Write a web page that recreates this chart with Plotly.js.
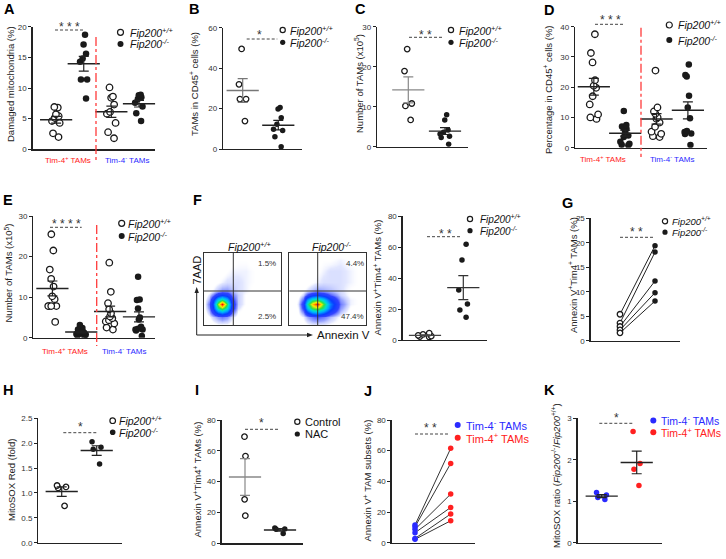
<!DOCTYPE html>
<html><head><meta charset="utf-8">
<script src="https://cdn.plot.ly/plotly-3.0.1.min.js"></script>
<style>html,body{margin:0;padding:0;background:#fff}#chart{width:726px;height:559px}</style>
</head><body><div id="chart"></div>
<script>
// ================= DATA =================
const groupCats = ['Tim-4+ WT', 'Tim-4+ KO', 'Tim-4- WT', 'Tim-4- KO'];
const genoCats = ['Fip200+/+', 'Fip200-/-'];
const treatCats = ['Control', 'NAC'];
const subsetCats = ['Tim-4- TAMs', 'Tim-4+ TAMs'];

// A: damaged mitochondria (%)
const aPosWT = [6.9, 6.8, 5.7, 5.4, 5.1, 4.6, 4.3, 2.6, 2.0];
const aPosKO = [18.7, 17.1, 15.6, 14.8, 14.3, 11.4, 11.4, 8.3];
const aNegWT = [10.1, 8.6, 8.4, 7.3, 6.1, 5.8, 4.3, 2.8, 1.8];
const aNegKO = [8.9, 8.8, 8.5, 8.2, 7.6, 7.0, 5.9, 4.6];
// B: TAMs in CD45+ cells (%)
const bWT = [49.5, 32.0, 24.7, 24.7, 13.8];
const bKO = [20.5, 19.8, 15.5, 12.3, 9.8, 9.2, 6.0, 1.1];
// C: number of TAMs (x10^5)
const cWT = [24.4, 18.9, 10.8, 10.2, 6.7];
const cKO = [8.0, 6.7, 4.2, 3.6, 3.2, 2.6, 2.3, 0.6];
// D: percentage in CD45+ cells (%)
const dPosWT = [37.5, 31.3, 28.2, 22.3, 20.5, 19.8, 17.0, 14.3, 11.0, 10.0, 9.5];
const dPosKO = [12.1, 7.5, 7.0, 6.5, 6.3, 5.5, 4.0, 3.5, 2.0, 1.3, 1.0, 0.8];
const dNegWT = [25.5, 13.3, 12.0, 11.2, 10.0, 9.6, 8.3, 6.9, 5.3, 4.6, 3.8, 3.5];
const dNegKO = [27.5, 24.0, 23.5, 17.2, 13.3, 9.7, 5.5, 5.2, 4.7, 4.5, 0.9];
// E: number of TAMs (x10^5)
const ePosWT = [25.5, 21.5, 16.8, 14.5, 12.6, 10.2, 9.5, 7.8, 7.8, 7.8, 7.8, 3.9];
const ePosKO = [3.1, 2.4, 2.0, 1.8, 1.6, 1.4, 1.2, 1.0, 0.9, 0.7, 0.5, 0.4];
const eNegWT = [18.5, 11.3, 8.5, 7.0, 6.0, 5.2, 4.8, 4.3, 4.0, 3.5, 2.5, 2.0];
const eNegKO = [15.0, 9.4, 9.3, 7.2, 5.0, 4.5, 2.7, 2.2, 2.0, 2.0, 1.8, 0.4];
// F: flow cytometry density (Annexin V vs 7AAD, relative scale), and Annexin V+Tim4+ TAMs (%)
const annexinBins = [0, 0.06, 0.12, 0.18, 0.24, 0.30, 0.36, 0.44, 0.54, 0.66, 0.80, 1];
const aadBins = [0, 0.11, 0.17, 0.23, 0.29, 0.35, 0.41, 0.47, 0.60, 0.75, 0.90, 1];
const flowWT = [
  [0, 0, 0.01, 0.02, 0.02, 0.02, 0.01, 0, 0, 0, 0, 0],
  [0, 0.02, 0.05, 0.08, 0.10, 0.08, 0.04, 0.01, 0, 0, 0, 0],
  [0, 0.05, 0.14, 0.28, 0.34, 0.26, 0.10, 0.02, 0.01, 0, 0, 0],
  [0.01, 0.08, 0.24, 0.58, 0.70, 0.52, 0.18, 0.04, 0.01, 0, 0, 0],
  [0.01, 0.10, 0.28, 0.72, 1.00, 0.62, 0.20, 0.05, 0.02, 0.01, 0, 0],
  [0.01, 0.07, 0.22, 0.50, 0.62, 0.45, 0.16, 0.05, 0.02, 0.01, 0, 0],
  [0, 0.04, 0.10, 0.20, 0.25, 0.20, 0.10, 0.05, 0.02, 0.01, 0, 0],
  [0, 0.01, 0.03, 0.06, 0.08, 0.08, 0.06, 0.04, 0.03, 0.01, 0, 0],
  [0, 0, 0.01, 0.02, 0.03, 0.04, 0.04, 0.04, 0.03, 0.02, 0.01, 0],
  [0, 0, 0, 0.01, 0.01, 0.02, 0.03, 0.03, 0.03, 0.02, 0.01, 0],
  [0, 0, 0, 0, 0, 0.01, 0.01, 0.02, 0.02, 0.01, 0, 0],
  [0, 0, 0, 0, 0, 0, 0, 0, 0, 0, 0, 0]
];
const flowKO = [
  [0, 0, 0, 0.01, 0.02, 0.03, 0.03, 0.03, 0.02, 0.01, 0, 0],
  [0, 0, 0.01, 0.03, 0.07, 0.10, 0.12, 0.10, 0.06, 0.02, 0.01, 0],
  [0, 0, 0.02, 0.08, 0.22, 0.34, 0.38, 0.30, 0.16, 0.05, 0.01, 0],
  [0, 0, 0.03, 0.15, 0.45, 0.66, 0.72, 0.58, 0.30, 0.08, 0.02, 0],
  [0, 0, 0.04, 0.18, 0.55, 0.82, 1.00, 0.66, 0.34, 0.10, 0.03, 0.01],
  [0, 0, 0.03, 0.12, 0.40, 0.58, 0.62, 0.50, 0.26, 0.08, 0.03, 0.01],
  [0, 0, 0.01, 0.05, 0.14, 0.22, 0.25, 0.20, 0.12, 0.05, 0.02, 0.01],
  [0, 0, 0, 0.02, 0.04, 0.06, 0.08, 0.07, 0.06, 0.04, 0.02, 0.01],
  [0, 0, 0, 0, 0.01, 0.02, 0.03, 0.04, 0.04, 0.04, 0.03, 0.01],
  [0, 0, 0, 0, 0, 0.01, 0.02, 0.03, 0.04, 0.04, 0.03, 0.01],
  [0, 0, 0, 0, 0, 0, 0.01, 0.02, 0.02, 0.03, 0.02, 0.01],
  [0, 0, 0, 0, 0, 0, 0, 0, 0.01, 0.01, 0.01, 0]
];
const quadWT = ['1.5%', '2.5%'];
const quadKO = ['4.4%', '47.4%'];
const fWT = [4.5, 3.6, 3.0, 2.5, 2.2, 2.0];
const fKO = [61.7, 51.6, 32.3, 23.2, 19.4, 14.6];
// G: paired Annexin V+Tim4+ TAMs (%)
const gWT = [5.4, 3.6, 2.9, 2.2, 1.6];
const gKO = [19.4, 18.1, 12.2, 9.8, 8.1];
// H: MitoSOX Red (fold)
const hWT = [1.15, 1.12, 1.10, 0.74];
const hKO = [2.03, 1.92, 1.88, 1.58];
// I: Control vs NAC
const iCtrl = [69.2, 56.6, 28.5, 17.9];
const iNAC = [10.0, 9.3, 9.1, 6.3];
// J: Annexin V+ TAM subsets (%)
const jNeg = [11.5, 10.4, 8.7, 6.5, 2.8, 2.2];
const jPos = [61.5, 51.7, 31.7, 23.0, 18.7, 14.3];
// K: MitoSOX ratio
const kNeg = [1.21, 1.15, 1.09, 1.04];
const kPos = [2.68, 1.91, 1.77, 1.38];

// ================= STYLE / HELPERS =================
const FONT = 'Liberation Sans, Arial, Helvetica, sans-serif';
const W = 726, H = 559;
const px = v => v / W, py = v => 1 - v / H;
const RED = '#ff2020', BLUE = '#2a2aff', DARK = '#1a1a1a';
const traces = [], shapes = [], annotations = [];
const layout = {
  width: W, height: H, margin: {l: 0, r: 0, t: 0, b: 0},
  paper_bgcolor: '#ffffff', plot_bgcolor: 'rgba(0,0,0,0)',
  showlegend: false, boxgap: 0, boxmode: 'overlay',
  font: {family: FONT, color: '#222'},
  shapes: shapes, annotations: annotations
};
let axisCount = 0;
function addAxes(g) {
  axisCount++;
  const s = axisCount === 1 ? '' : String(axisCount);
  const xid = 'x' + s, yid = 'y' + s;
  const xa = {domain: [px(g.x0), px(g.x1)], anchor: yid, range: g.xr, showline: true, linecolor: '#222',
    linewidth: 1.3, ticks: '', showticklabels: false, showgrid: false, zeroline: false, fixedrange: true};
  if (g.cats) Object.assign(xa, {type: 'category', categoryorder: 'array', categoryarray: g.cats});
  else xa.type = 'linear';
  const ya = {domain: [py(g.yBot), py(g.yTop)], anchor: xid, range: g.yr, type: 'linear', showline: true,
    linecolor: '#222', linewidth: 1.3, showgrid: false, zeroline: false, fixedrange: true};
  if (g.flow) {
    Object.assign(xa, {mirror: true, linewidth: 1.1, linecolor: '#333'});
    Object.assign(ya, {mirror: true, ticks: '', showticklabels: false, linewidth: 1.1, linecolor: '#333'});
  } else {
    Object.assign(ya, {ticks: 'outside', ticklen: 3, tickwidth: 1, tickcolor: '#222', tickmode: 'linear',
      tick0: 0, dtick: g.dtick, tickformat: g.fmt || '', tickfont: {family: FONT, size: 8, color: '#333'}});
  }
  layout['xaxis' + s] = xa; layout['yaxis' + s] = ya;
  return {x: xid, y: yid};
}
function markerOf(style, size) {
  if (style === 'open') return {symbol: 'circle', size: size, color: '#ffffff', line: {width: 1.3, color: DARK}};
  if (style === 'filled') return {symbol: 'circle', size: size, color: DARK, line: {width: 0, color: DARK}};
  return {symbol: 'circle', size: size, color: style, line: {width: 0, color: style}};
}
function dots(ax, cat, vals, style, jitter, size) {
  traces.push({type: 'box', x: vals.map(() => cat), y: vals, xaxis: ax.x, yaxis: ax.y, boxpoints: 'all',
    jitter: jitter, pointpos: 0, fillcolor: 'rgba(0,0,0,0)', line: {width: 0, color: 'rgba(0,0,0,0)'},
    whiskerwidth: 0, marker: markerOf(style, size), hoverinfo: 'skip', showlegend: false});
}
function meanSem(ax, cat, vals, color) {
  const m = vals.reduce((a, b) => a + b, 0) / vals.length;
  const sd = Math.sqrt(vals.reduce((a, b) => a + (b - m) * (b - m), 0) / (vals.length - 1));
  const se = sd / Math.sqrt(vals.length);
  traces.push({type: 'scatter', mode: 'markers', x: [cat], y: [m], xaxis: ax.x, yaxis: ax.y,
    marker: {symbol: 'line-ew-open', size: 23, color: color, line: {width: 1.4, color: color}},
    error_y: {type: 'data', array: [se], visible: true, color: color, thickness: 1.2, width: 5},
    cliponaxis: false, hoverinfo: 'skip', showlegend: false});
}
function pairs(ax, cats, a, b, lineColor, styleA, styleB, size) {
  const xs = [], ys = [];
  a.forEach((v, i) => { xs.push(cats[0], cats[1], null); ys.push(v, b[i], null); });
  traces.push({type: 'scatter', mode: 'lines', x: xs, y: ys, xaxis: ax.x, yaxis: ax.y, connectgaps: false,
    line: {color: lineColor, width: 1}, cliponaxis: false, hoverinfo: 'skip', showlegend: false});
  traces.push({type: 'scatter', mode: 'markers', x: a.map(() => cats[0]), y: a, xaxis: ax.x, yaxis: ax.y,
    marker: markerOf(styleA, size), cliponaxis: false, hoverinfo: 'skip', showlegend: false});
  traces.push({type: 'scatter', mode: 'markers', x: b.map(() => cats[1]), y: b, xaxis: ax.x, yaxis: ax.y,
    marker: markerOf(styleB, size), cliponaxis: false, hoverinfo: 'skip', showlegend: false});
}
function ann(text, x, y, o) {
  annotations.push(Object.assign({text: text, xref: 'paper', yref: 'paper', x: px(x), y: py(y),
    showarrow: false, xanchor: 'center', yanchor: 'middle', font: {family: FONT, size: 9.5, color: '#222'}}, o || {}));
}
function letter(t, x, y) { ann('<b>' + t + '</b>', x, y, {font: {family: FONT, size: 14.5, color: '#000'}}); }
function ytitle(t, x, y) { ann(t, x, y, {textangle: -90, font: {family: FONT, size: 9.5, color: '#222'}}); }
function pline(x0, y0, x1, y1, color, width, dash) {
  shapes.push({type: 'line', xref: 'paper', yref: 'paper', x0: px(x0), y0: py(y0), x1: px(x1), y1: py(y1),
    line: {color: color, width: width, dash: dash || 'solid'}});
}
function sig(text, cx, cy, lx0, lx1, ly) {
  pline(lx0, ly, lx1, ly, '#444', 1, '3px,2px');
  ann(text, cx, cy + 3, {font: {family: FONT, size: 12, color: '#333'}});
}
function legendItem(cx, cy, style, r, text, tx, size, color, italic) {
  const fill = style === 'open' ? '#ffffff' : (style === 'filled' ? DARK : style);
  const lc = style === 'open' ? DARK : fill;
  shapes.push({type: 'circle', xref: 'paper', yref: 'paper', x0: px(cx - r), x1: px(cx + r), y0: py(cy + r), y1: py(cy - r),
    fillcolor: fill, line: {color: lc, width: style === 'open' ? 1.2 : 0}});
  ann(italic ? '<i>' + text + '</i>' : text, tx, cy, {xanchor: 'left', font: {family: FONT, size: size, color: color || '#111'}});
}
function fipLegend(cx, cyA, cyB, r, tx, size) {
  legendItem(cx, cyA, 'open', r, 'Fip200<sup>+/+</sup>', tx, size || 10.5, '#111', true);
  legendItem(cx, cyB, 'filled', r, 'Fip200<sup>-/-</sup>', tx, size || 10.5, '#111', true);
}
const TP = 'Tim-4<sup>+</sup> TAMs', TN = 'Tim-4<sup>-</sup> TAMs';
const AVT = 'Annexin V<sup>+</sup>Tim4<sup>+</sup> TAMs (%)';

// ================= PANEL A =================
let ax = addAxes({x0: 32.5, x1: 155, yTop: 26.7, yBot: 149.3, yr: [0, 20], dtick: 5, cats: groupCats, xr: [-0.855, 3.58]});
dots(ax, groupCats[0], aPosWT, 'open', 0.6, 6.5);
dots(ax, groupCats[1], aPosKO, 'filled', 0.5, 6.5);
dots(ax, groupCats[2], aNegWT, 'open', 0.6, 6.5);
dots(ax, groupCats[3], aNegKO, 'filled', 0.6, 6.5);
groupCats.forEach((c, i) => meanSem(ax, c, [aPosWT, aPosKO, aNegWT, aNegKO][i], '#222'));
letter('A', 9, 9);
ytitle('Damaged mitochondria (%)', 11, 84);
pline(96, 37, 96, 161, '#ff3b3b', 1.3, 'dashdot');
sig('* * *', 69, 24, 55, 83.3, 30);
fipLegend(120.5, 32.3, 44, 3, 128.3);
ann(TP, 68, 160, {font: {family: FONT, size: 8, color: RED}});
ann(TN, 127, 160, {font: {family: FONT, size: 8, color: BLUE}});

// ================= PANEL B =================
ax = addAxes({x0: 223, x1: 302, yTop: 27.7, yBot: 149, yr: [0, 60], dtick: 20, cats: genoCats, xr: [-0.553, 1.666]});
dots(ax, genoCats[0], bWT, 'open', 0.35, 5.5);
dots(ax, genoCats[1], bKO, 'filled', 0.5, 5.5);
meanSem(ax, genoCats[0], bWT, '#777');
meanSem(ax, genoCats[1], bKO, '#222');
letter('B', 194, 9);
ytitle('TAMs in CD45<sup>+</sup> cells (%)', 194, 84);
sig('*', 259.3, 31.7, 246.7, 277.3, 39);
fipLegend(282.7, 30, 42.3, 2.6, 288.3);

// ================= PANEL C =================
ax = addAxes({x0: 377, x1: 468, yTop: 26.7, yBot: 146.7, yr: [0, 30], dtick: 10, cats: genoCats, xr: [-0.853, 1.627]});
dots(ax, genoCats[0], cWT, 'open', 0.35, 5.5);
dots(ax, genoCats[1], cKO, 'filled', 0.55, 5.5);
meanSem(ax, genoCats[0], cWT, '#888');
meanSem(ax, genoCats[1], cKO, '#222');
letter('C', 360, 9);
ytitle('Number of TAMs (x10<sup>5</sup>)', 359, 84);
sig('* *', 425, 31.7, 409, 443.3, 37.3);
fipLegend(451, 30, 42.3, 2.6, 456.7);

// ================= PANEL D =================
ax = addAxes({x0: 575, x1: 706.7, yTop: 26.7, yBot: 147.7, yr: [0, 40], dtick: 10, cats: groupCats, xr: [-0.601, 3.60]});
dots(ax, groupCats[0], dPosWT, 'open', 0.5, 6.5);
dots(ax, groupCats[1], dPosKO, 'filled', 0.55, 6.5);
dots(ax, groupCats[2], dNegWT, 'open', 0.55, 6.5);
dots(ax, groupCats[3], dNegKO, 'filled', 0.45, 6.5);
groupCats.forEach((c, i) => meanSem(ax, c, [dPosWT, dPosKO, dNegWT, dNegKO][i], '#222'));
letter('D', 549, 10);
ytitle('Percentage in CD45<sup>+</sup> cells (%)', 548, 90);
pline(641, 27.7, 641, 157, '#ff3b3b', 1.3, 'dashdot');
sig('* * *', 610, 17.3, 595, 625, 24.3);
fipLegend(669.3, 25, 40, 3, 676);
ann(TP, 603, 159.3, {font: {family: FONT, size: 8, color: RED}});
ann(TN, 672, 159.3, {font: {family: FONT, size: 8, color: BLUE}});

// ================= PANEL E =================
ax = addAxes({x0: 33.3, x1: 155, yTop: 216, yBot: 337.7, yr: [0, 30], dtick: 10, cats: groupCats, xr: [-0.662, 3.556]});
dots(ax, groupCats[0], ePosWT, 'open', 0.55, 6.5);
dots(ax, groupCats[1], ePosKO, 'filled', 0.6, 6.5);
dots(ax, groupCats[2], eNegWT, 'open', 0.55, 6.5);
dots(ax, groupCats[3], eNegKO, 'filled', 0.55, 6.5);
groupCats.forEach((c, i) => meanSem(ax, c, [ePosWT, ePosKO, eNegWT, eNegKO][i], '#222'));
letter('E', 8, 200);
ytitle('Number of TAMs (x10<sup>5</sup>)', 8.5, 273);
pline(96.7, 225, 96.7, 346, '#ff3b3b', 1.3, 'dashdot');
sig('* * * *', 66.7, 220.7, 50, 81.7, 227.3);
fipLegend(121.7, 223.3, 236, 3, 126);
ann(TP, 64.5, 350.7, {font: {family: FONT, size: 8, color: RED}});
ann(TN, 123.5, 350.7, {font: {family: FONT, size: 8, color: BLUE}});

// ================= PANEL F (flow) =================
const flowScale = [[0, 'rgba(255,255,255,0)'], [0.018, 'rgba(255,255,255,0)'], [0.035, 'rgba(190,200,255,0.45)'],
  [0.07, 'rgba(130,145,255,0.8)'], [0.13, '#3444ff'], [0.25, '#0a3cff'], [0.4, '#00a8ff'], [0.52, '#00e0d0'],
  [0.64, '#30e040'], [0.78, '#ffee00'], [0.9, '#ff8000'], [1, '#ff0000']];
const f1 = addAxes({x0: 204, x1: 281, yTop: 253, yBot: 325, xr: [0, 1], yr: [0, 1], flow: true});
traces.push({type: 'heatmap', x: annexinBins, y: aadBins, z: flowWT, xaxis: f1.x, yaxis: f1.y, zsmooth: 'best',
  zmin: 0, zmax: 1, colorscale: flowScale, showscale: false, hoverinfo: 'skip'});
const f2 = addAxes({x0: 289.3, x1: 366, yTop: 253, yBot: 325, xr: [0, 1], yr: [0, 1], flow: true});
traces.push({type: 'heatmap', x: annexinBins, y: aadBins, z: flowKO, xaxis: f2.x, yaxis: f2.y, zsmooth: 'best',
  zmin: 0, zmax: 1, colorscale: flowScale, showscale: false, hoverinfo: 'skip'});
pline(233.3, 253, 233.3, 325, '#333', 1);
pline(204, 291, 281, 291, '#333', 1);
pline(317.7, 253, 317.7, 325, '#333', 1);
pline(289.3, 291, 366, 291, '#333', 1);
ann('<i>Fip200<sup>+/+</sup></i>', 249, 246, {font: {family: FONT, size: 10.5, color: '#111'}});
ann('<i>Fip200<sup>-/-</sup></i>', 332, 246, {font: {family: FONT, size: 10.5, color: '#111'}});
ann(quadWT[0], 277.5, 263.3, {xanchor: 'right', font: {family: FONT, size: 8, color: '#333'}});
ann(quadWT[1], 277.5, 316, {xanchor: 'right', font: {family: FONT, size: 8, color: '#333'}});
ann(quadKO[0], 365.5, 263.3, {xanchor: 'right', font: {family: FONT, size: 8, color: '#333'}});
ann(quadKO[1], 365.5, 316, {xanchor: 'right', font: {family: FONT, size: 8, color: '#333'}});
ann('7AAD', 196.5, 270, {textangle: -90, font: {family: FONT, size: 11, color: '#111'}});
pline(196.7, 335, 196.7, 292, '#222', 1);
pline(196.7, 335, 309, 335, '#222', 1);
shapes.push({type: 'path', xref: 'paper', yref: 'paper', fillcolor: '#222', line: {width: 0},
  path: `M${px(196.7)},${py(287)} L${px(194.5)},${py(293)} L${px(198.9)},${py(293)} Z`});
shapes.push({type: 'path', xref: 'paper', yref: 'paper', fillcolor: '#222', line: {width: 0},
  path: `M${px(313)},${py(335)} L${px(307)},${py(332.8)} L${px(307)},${py(337.2)} Z`});
ann('Annexin V', 315, 334.5, {xanchor: 'left', font: {family: FONT, size: 11.5, color: '#111'}});
letter('F', 198, 200);

// ================= PANEL F (dot plot) =================
ax = addAxes({x0: 402.7, x1: 486.7, yTop: 216, yBot: 340, yr: [0, 80], dtick: 20, cats: genoCats, xr: [-0.582, 1.611]});
dots(ax, genoCats[0], fWT, 'open', 0.6, 5.5);
dots(ax, genoCats[1], fKO, 'filled', 0.4, 5.5);
meanSem(ax, genoCats[0], fWT, '#444');
meanSem(ax, genoCats[1], fKO, '#333');
ytitle(AVT, 377.5, 277);
sig('* *', 445, 230.5, 427, 460.7, 236.7);
fipLegend(470, 219, 230.7, 2.6, 478.3, 10);

// ================= PANEL G =================
ax = addAxes({x0: 590.7, x1: 680, yTop: 218.3, yBot: 340.7, yr: [0, 25], dtick: 5, cats: genoCats, xr: [-0.837, 1.714]});
pairs(ax, genoCats, gWT, gKO, '#222', 'open', 'filled', 5.5);
letter('G', 567.5, 202.5);
ytitle(AVT, 573, 275);
sig('* *', 636.7, 229.3, 620, 653.3, 237.3);
fipLegend(665, 221.2, 232.2, 2.6, 670, 9.5);

// ================= PANEL H =================
ax = addAxes({x0: 38.3, x1: 121.7, yTop: 418.3, yBot: 542.7, yr: [0, 2.5], dtick: 0.5, fmt: '.1f', cats: genoCats, xr: [-0.669, 1.714]});
dots(ax, genoCats[0], hWT, 'open', 0.45, 5.5);
dots(ax, genoCats[1], hKO, 'filled', 0.45, 5.5);
meanSem(ax, genoCats[0], hWT, '#222');
meanSem(ax, genoCats[1], hKO, '#222');
letter('H', 8, 390);
ytitle('MitoSOX Red (fold)', 11, 480);
sig('*', 80, 424.3, 63.3, 97.7, 432.7);
fipLegend(112.7, 420.7, 432.3, 2.8, 116.7);

// ================= PANEL I =================
ax = addAxes({x0: 221.7, x1: 303.3, yTop: 420, yBot: 543.3, yr: [0, 80], dtick: 20, cats: treatCats, xr: [-0.666, 1.666]});
dots(ax, treatCats[0], iCtrl, 'open', 0.05, 5.5);
dots(ax, treatCats[1], iNAC, 'filled', 0.5, 5.5);
meanSem(ax, treatCats[0], iCtrl, '#888');
meanSem(ax, treatCats[1], iNAC, '#222');
letter('I', 197, 390);
ytitle(AVT, 197.5, 480);
sig('*', 261.7, 420, 245, 279.3, 429.3);
legendItem(297.3, 421.7, 'open', 2.6, 'Control', 302.7, 11, '#111', false);
legendItem(297.3, 434, 'filled', 2.6, 'NAC', 302.7, 11, '#111', false);

// ================= PANEL J =================
ax = addAxes({x0: 391.7, x1: 475, yTop: 420, yBot: 542.7, yr: [0, 80], dtick: 20, cats: subsetCats, xr: [-0.653, 1.681]});
pairs(ax, subsetCats, jNeg, jPos, '#333', BLUE, RED, 5.5);
letter('J', 368, 391);
ytitle('Annexin V<sup>+</sup> TAM subsets (%)', 367.5, 481);
sig('* *', 430, 425, 415, 449.3, 434);
legendItem(457.7, 425, BLUE, 3, TN, 464, 11, BLUE, false);
legendItem(457.7, 437.7, RED, 3, TP, 464, 11, RED, false);

// ================= PANEL K =================
ax = addAxes({x0: 577.7, x1: 661.7, yTop: 418.3, yBot: 542.7, yr: [0, 3], dtick: 1, cats: subsetCats, xr: [-0.686, 1.714]});
dots(ax, subsetCats[0], kNeg, BLUE, 0.5, 5.5);
dots(ax, subsetCats[1], kPos, RED, 0.35, 5.5);
meanSem(ax, subsetCats[0], kNeg, '#222');
meanSem(ax, subsetCats[1], kPos, '#222');
letter('K', 549, 390);
ytitle('MitoSOX ratio (<i>Fip200</i><sup>-/-</sup>/<i>Fip200</i><sup>+/+</sup>)', 556, 476);
sig('*', 616.7, 415, 599.3, 633.3, 423.3);
legendItem(653.3, 420.5, BLUE, 3, TN, 659.3, 10.5, BLUE, false);
legendItem(653.3, 432.2, RED, 3, TP, 659.3, 10.5, RED, false);

Plotly.newPlot('chart', traces, layout, {staticPlot: true, displayModeBar: false});
</script></body></html>
